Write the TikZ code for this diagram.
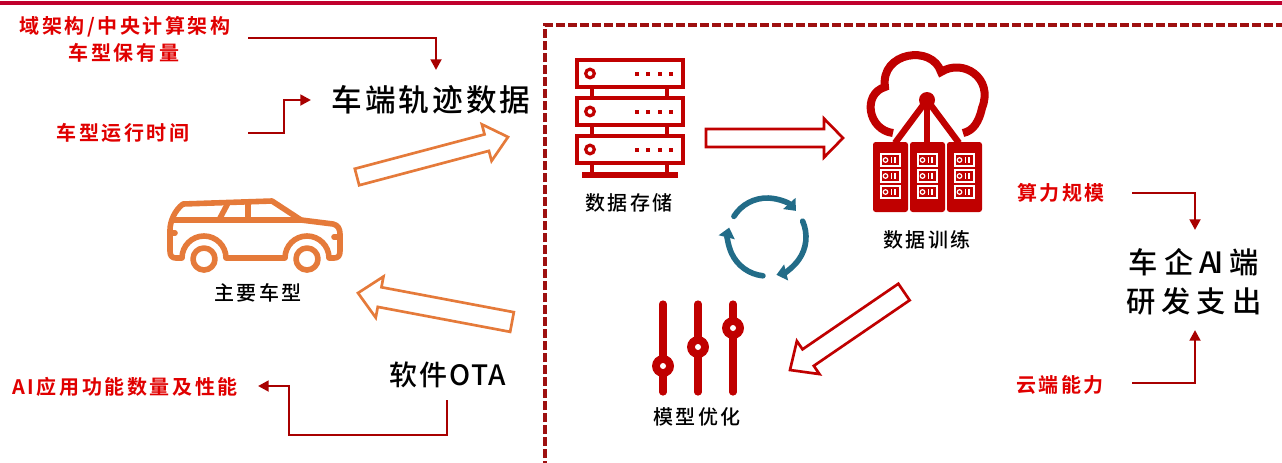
\documentclass[tikz,border=0pt]{standalone}
\usepackage{fontspec}
\setmainfont{Noto Sans CJK SC}
\newfontfamily\labfont[LetterSpace=13]{Noto Sans CJK SC Medium}
\newfontfamily\labfontbold[LetterSpace=13]{Noto Sans CJK SC Bold}
\newfontfamily\bigfont[LetterSpace=10]{Noto Sans CJK SC Medium}
\newfontfamily\otafont[LetterSpace=6]{Noto Sans CJK SC Medium}
\newfontfamily\spendfont[LetterSpace=20]{Noto Sans CJK SC Medium}
\usetikzlibrary{arrows.meta,calc}

\definecolor{topred}{HTML}{C0002D}
\definecolor{boxred}{HTML}{9E1010}
\definecolor{labred}{HTML}{E00000}
\definecolor{connred}{HTML}{A80000}
\definecolor{iconred}{HTML}{C00000}
\definecolor{carorange}{HTML}{E57A3A}
\definecolor{cycleteal}{HTML}{226C88}

% hollow block arrow: style, from, to, half shaft width, half head width, head length
\newcommand\blockarrow[6]{%
  \draw[#1] ($(#2)!#4!90:(#3)$)
    -- ($(#3)!#6!(#2)!#4!90:(#3)$)
    -- ($(#3)!#6!(#2)!#5!90:(#3)$)
    -- (#3)
    -- ($(#3)!#6!(#2)!#5!-90:(#3)$)
    -- ($(#3)!#6!(#2)!#4!-90:(#3)$)
    -- ($(#2)!#4!-90:(#3)$) -- cycle;}

\begin{document}
\begin{tikzpicture}[x=0.75pt,y=-0.75pt,
  rlab/.style={text=labred,inner sep=0pt,font=\labfontbold\fontsize{15pt}{18pt}\selectfont},
  blab/.style={text=black,inner sep=0pt,font=\labfont\fontsize{15pt}{18pt}\selectfont},
  biglab/.style={text=black,inner sep=0pt,font=\bigfont\fontsize{23pt}{28pt}\selectfont},
  otalab/.style={text=black,inner sep=0pt,font=\otafont\fontsize{21pt}{26pt}\selectfont},
  spendlab/.style={text=black,inner sep=0pt,align=center,font=\spendfont\fontsize{22pt}{29.3pt}\selectfont},
  conn/.style={draw=connred,line width=2pt,-{Triangle[length=8pt,width=8pt]}},
  orangearrow/.style={draw=carorange,line width=2pt,line join=miter,fill=white},
  redarrow/.style={draw=iconred,line width=2pt,line join=miter,fill=white},
  carline/.style={draw=carorange,line width=4.2pt,line join=round,line cap=round},
  icon/.style={draw=iconred},
  cyc/.style={draw=cycleteal,line width=4.2pt,line cap=round,-{Triangle[length=7.5pt,width=12pt]}},
  slider/.style={draw=iconred,line width=5.4pt,line cap=round}]
\useasboundingbox (0,0) rectangle (1282,462);

% top rule and dashed cloud-side frame
\draw[topred,line width=2.4pt] (0,3) -- (1282,3);
\draw[boxred,line width=2.3pt,dash pattern=on 6.7pt off 2.3pt] (545,470) -- (545,25) -- (1290,25);

% ---------- labels ----------
\node[rlab] (dom) at (125,27) {域架构/中央计算架构};
\node[rlab] (own) at (124,53) {车型保有量};
\node[rlab] (run) at (123,133) {车型运行时间};
\node[biglab] (traj) at (431,100) {车端轨迹数据};
\node[blab] (car) at (258,293) {主要车型};
\node[otalab] (ota) at (448,375) {软件OTA};
\node[rlab] (aiapp) at (125,387) {AI应用功能数量及性能};
\node[blab] (store) at (629,203) {数据存储};
\node[blab] (train) at (927,240) {数据训练};
\node[blab] (opt) at (697,417) {模型优化};
\node[rlab] (comp) at (1061,193) {算力规模};
\node[rlab] (cloudcap) at (1060,385) {云端能力};
\node[spendlab] (spend) at (1194,282) {车企A\kern-2pt I端\\研发支出};

% ---------- elbow connectors ----------
\coordinate (c1a) at (248,38);  \coordinate (c1b) at (436,70);
\draw[conn] (c1a) -| (c1b);
\coordinate (c2a) at (248,133); \coordinate (c2m) at (284,133); \coordinate (c2b) at (311,100);
\draw[conn] (c2a) -- (c2m) |- (c2b);
\coordinate (c3a) at (447,400); \coordinate (c3m) at (289,435); \coordinate (c3b) at (258,386);
\draw[conn] (c3a) |- (c3m) |- (c3b);
\coordinate (c4a) at (1132,193); \coordinate (c4b) at (1195,230);
\draw[conn] (c4a) -| (c4b);
\coordinate (c5a) at (1132,383); \coordinate (c5b) at (1195,330);
\draw[conn] (c5a) -| (c5b);

% ---------- hollow block arrows ----------
\coordinate (a1s) at (357,177); \coordinate (a1e) at (508,137);
\blockarrow{orangearrow}{a1s}{a1e}{6.4pt}{14.2pt}{16.5pt}
\coordinate (a2s) at (512,322); \coordinate (a2e) at (358,293);
\blockarrow{orangearrow}{a2s}{a2e}{7.5pt}{15.7pt}{16.5pt}
\coordinate (a3s) at (706,138); \coordinate (a3e) at (843,138);
\blockarrow{redarrow}{a3s}{a3e}{6.7pt}{14.6pt}{14.3pt}
\coordinate (a4s) at (904,292); \coordinate (a4e) at (790,370);
\blockarrow{redarrow}{a4s}{a4e}{7.5pt}{15pt}{16.5pt}

% ---------- car ----------
\draw[carline] (183,204) -- (272,201) -- (301,220) -- (333,224)
  .. controls (338,225) and (340,229) .. (340,234) -- (340,251)
  .. controls (340,256) and (338,258) .. (334,258) -- (329,258)
  arc[start angle=0,end angle=-180,radius=22] -- (226,258)
  arc[start angle=0,end angle=-180,radius=22] -- (176,258)
  .. controls (172,258) and (170,256) .. (170,251) -- (170,230)
  .. controls (170,221) and (175,210) .. (183,204) -- cycle;
\draw[carline] (173,220) -- (301,220);
\draw[carline] (228,203) -- (219,220);
\draw[carline] (248,202) -- (248,220);
\draw[carline] (170,233) -- (175,233);
\draw[carline] (334,237) -- (340,237);
\draw[carline] (204,259) circle[radius=11];
\draw[carline] (307,259) circle[radius=11];

% ---------- storage rack ----------
\foreach \y in {60,98,136} {
  \draw[icon,line width=3.3pt,fill=white] (577,\y) rectangle (683,\y+27);
  \draw[icon,line width=2.4pt] (590,\y+13.5) circle[radius=4.3];
  \foreach \x in {637,648,660,671}
    \fill[iconred] (\x-2,\y+11.5) rectangle (\x+2,\y+15.5);
}
\foreach \x in {592,667} {
  \draw[icon,line width=3.3pt] (\x,87) -- (\x,98);
  \draw[icon,line width=3.3pt] (\x,125) -- (\x,136);
  \draw[icon,line width=3.3pt] (\x,163) -- (\x,174);
}
\draw[icon,line width=3.8pt] (582,175) -- (678,175);

% ---------- training cloud ----------
\draw[icon,line width=6pt,line cap=butt]
  (893,133) .. controls (868,130) and (862,94) .. (885,87)
  .. controls (880,52) and (932,44) .. (941,72)
  .. controls (963,58) and (994,78) .. (982,108)
  .. controls (979,122) and (973,131) .. (963,133);
\fill[iconred] (927,100) circle[radius=8];
\draw[icon,line width=4.8pt] (927,100) -- (927,142);
\draw[icon,line width=4.8pt] (927,100) -- (895,143);
\draw[icon,line width=4.8pt] (927,100) -- (959,143);
\foreach \x in {873,910,947} {
  \fill[iconred,rounded corners=2pt] (\x,142) rectangle (\x+35,212);
  \foreach \y in {154,170,186} {
    \draw[white,line width=1pt] (\x+8,\y) rectangle (\x+27,\y+12);
    \draw[white,line width=0.9pt] (\x+12.5,\y+6) circle[radius=2.3];
    \draw[white,line width=1.1pt] (\x+18.5,\y+3) -- (\x+18.5,\y+9);
    \draw[white,line width=1.1pt] (\x+22,\y+3) -- (\x+22,\y+9);
  }
}

% ---------- iteration cycle ----------
\coordinate (cyc) at (767,237);
\draw[cyc] (cyc) ++(-148:39) arc[start angle=-148,end angle=-42,radius=39];
\draw[cyc] (cyc) ++(-24:39) arc[start angle=-24,end angle=76,radius=39];
\draw[cyc] (cyc) ++(96:39) arc[start angle=96,end angle=194,radius=39];

% ---------- tuning sliders ----------
\foreach \x/\k in {663/366,698/347,733/328} {
  \draw[slider] (\x,304) -- (\x,392);
  \fill[iconred] (\x,\k) circle[radius=11];
  \fill[white] (\x,\k) circle[radius=3];
}
\end{tikzpicture}
\end{document}
